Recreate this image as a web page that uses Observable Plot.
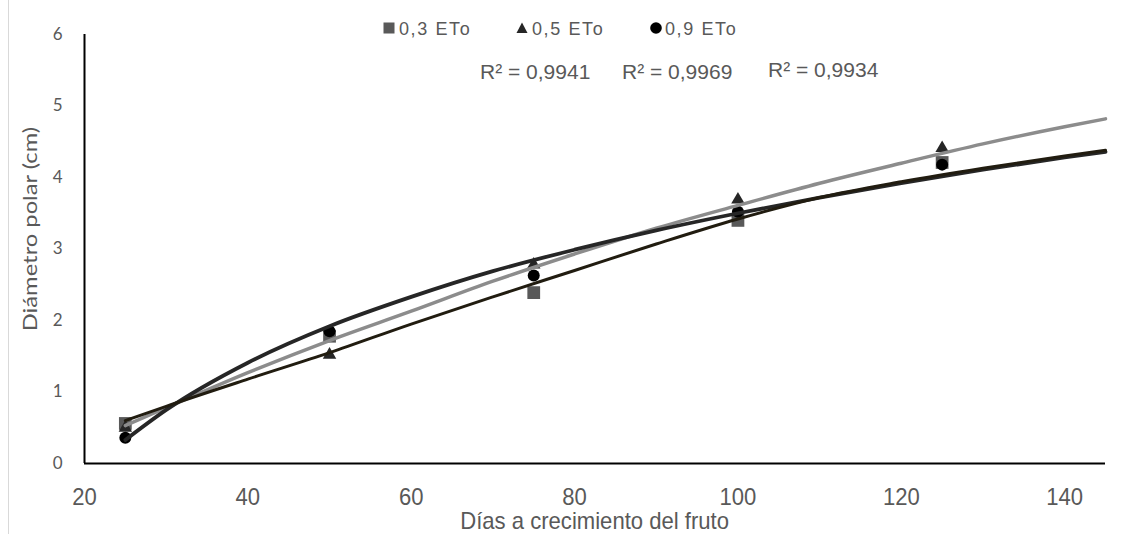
<!DOCTYPE html>
<html>
<head>
<meta charset="utf-8">
<script src="https://cdn.jsdelivr.net/npm/d3@7"></script>
<script src="https://cdn.jsdelivr.net/npm/@observablehq/plot@0.6"></script>
<style>
  html, body { margin: 0; padding: 0; background: #fff; }
  #wrap { position: relative; width: 1131px; height: 534px; overflow: hidden; background: #fff; }
  #wrap svg { position: absolute; left: 0; top: 0; }
  .abs { position: absolute; white-space: nowrap; }
  .leg { font-family: "Liberation Sans", Arial, sans-serif; font-size: 18px; line-height: 18px; color: #595959; letter-spacing: 1.6px; }
  .r2 { font-family: "Liberation Sans", Arial, sans-serif; font-size: 21px; line-height: 21px; color: #595959; }
  .border { position: absolute; left: 8px; top: 0; width: 1px; height: 534px; background: #d9d9d9; }
</style>
</head>
<body>
<div id="wrap"></div>
<script>
// ---- data ----
const days = [25, 50, 75, 100, 125];
const eto03 = [0.56, 1.78, 2.39, 3.40, 4.21];
const eto05 = [0.50, 1.52, 2.78, 3.69, 4.41];
const eto09 = [0.36, 1.85, 2.63, 3.52, 4.18];

// trend lines
const trendDays = [25, 30, 40, 50, 60, 70, 80, 90, 100, 110, 120, 130, 140, 145];
const trend03 = [0.60, 0.80, 1.18, 1.55, 1.95, 2.33, 2.70, 3.07, 3.42, 3.72, 3.94, 4.13, 4.30, 4.38];
const trend05 = [0.53, 0.78, 1.27, 1.72, 2.13, 2.55, 2.93, 3.29, 3.61, 3.92, 4.20, 4.47, 4.71, 4.82];
const trend09 = [0.33, 0.75, 1.41, 1.92, 2.33, 2.69, 2.99, 3.26, 3.50, 3.72, 3.92, 4.11, 4.28, 4.36];

const seriesNames = ["0,3 ETo", "0,5 ETo", "0,9 ETo"];
const r2Labels = ["R² = 0,9941", "R² = 0,9969", "R² = 0,9934"];
const xTicks = [20, 40, 60, 80, 100, 120, 140];
const yTicks = [0, 1, 2, 3, 4, 5, 6];
const xTitle = "Días a crecimiento del fruto";
const yTitle = "Diámetro polar (cm)";

const pts = (vals) => days.map((d, i) => ({x: d, y: vals[i]}));
const tr = (vals) => trendDays.map((d, i) => ({x: d, y: vals[i]}));

const chart = Plot.plot({
  width: 1131,
  height: 534,
  marginLeft: 84,
  marginRight: 26,
  marginTop: 34,
  marginBottom: 71,
  style: {fontFamily: "Lato, sans-serif", color: "#595959", background: "transparent", overflow: "visible"},
  x: {domain: [20, 145]},
  y: {domain: [0, 6]},
  marks: [
    Plot.axisY(yTicks, {tickSize: 0, tickPadding: 22, fontSize: 17, fontFamily: "Lato, sans-serif", tickFormat: (d) => String(d), label: null}),
    Plot.axisX(xTicks, {tickSize: 0, tickPadding: 24, fontSize: 24, fontFamily: "'Liberation Sans', Arial, sans-serif", tickFormat: (d) => String(d), label: null}),
    Plot.dot(pts(eto03), {x: "x", y: "y", symbol: "square", r: 7.2, fill: "#595959"}),
    Plot.dot(pts(eto05), {x: "x", y: "y", symbol: "triangle", r: 5, fill: "#262626"}),
    Plot.dot(pts(eto09), {x: "x", y: "y", symbol: "circle", r: 6, fill: "#000000"}),
    Plot.line(tr(trend05), {x: "x", y: "y", stroke: "#8c8c8c", strokeWidth: 3.5, curve: "monotone-x"}),
    Plot.line(tr(trend09), {x: "x", y: "y", stroke: "#262626", strokeWidth: 3.8, curve: "monotone-x"}),
    Plot.line(tr(trend03), {x: "x", y: "y", stroke: "#211c10", strokeWidth: 3, curve: "monotone-x"}),
    Plot.ruleY([0], {stroke: "#000", strokeWidth: 2}),
    Plot.ruleX([20], {stroke: "#000", strokeWidth: 2})
  ]
});

// narrow the x tick labels a little (narrow look of the reference)
chart.querySelectorAll('g[aria-label="x-axis tick label"] text').forEach((t) => {
  const ax = +(t.getAttribute("x") || 0);
  const old = t.getAttribute("transform") || "";
  t.setAttribute("transform", `${old} translate(${ax},0) scale(0.92,1) translate(${-ax},0)`);
});

const wrap = document.getElementById("wrap");
const border = document.createElement("div");
border.className = "border";
wrap.appendChild(border);
wrap.appendChild(chart);

function addText(cls, text, left, top, extra) {
  const d = document.createElement("div");
  d.className = "abs " + cls;
  d.textContent = text;
  d.style.left = left + "px";
  d.style.top = top + "px";
  if (extra) Object.assign(d.style, extra);
  wrap.appendChild(d);
  return d;
}

// legend
const legSym = [
  {left: 383, html: '<svg width="12" height="12"><rect x="0.5" y="0.5" width="11" height="11" fill="#595959"/></svg>', top: 22},
  {left: 516, html: '<svg width="12" height="12"><path d="M6,0.5 L11.5,11 L0.5,11 Z" fill="#262626"/></svg>', top: 22},
  {left: 650, html: '<svg width="12" height="12"><circle cx="6" cy="6" r="5.8" fill="#000"/></svg>', top: 22}
];
const legTextLeft = [399, 532, 665];
legSym.forEach((s, i) => {
  const d = document.createElement("div");
  d.className = "abs";
  d.style.left = s.left + "px";
  d.style.top = s.top + "px";
  d.innerHTML = s.html;
  wrap.appendChild(d);
  addText("leg", seriesNames[i], legTextLeft[i], 20);
});

// R² labels
addText("r2", r2Labels[0], 480, 61);
addText("r2", r2Labels[1], 622, 61);
addText("r2", r2Labels[2], 768, 59);

// axis titles
addText("", xTitle, 0, 509, {
  width: "1189px", left: "0px", textAlign: "center",
  fontFamily: "'Liberation Sans', Arial, sans-serif",
  fontSize: "24px", lineHeight: "24px", color: "#595959",
  transform: "scaleX(0.92)", transformOrigin: "596px 50%"
});
addText("", yTitle, 0, 0, {
  fontFamily: "Lato, sans-serif", fontSize: "19px", lineHeight: "20px", color: "#595959",
  width: "240px", textAlign: "center", left: (30 - 120) + "px", top: (229 - 10) + "px",
  transform: "rotate(-90deg) scaleX(1.25)", transformOrigin: "50% 50%"
});
</script>
</body>
</html>
